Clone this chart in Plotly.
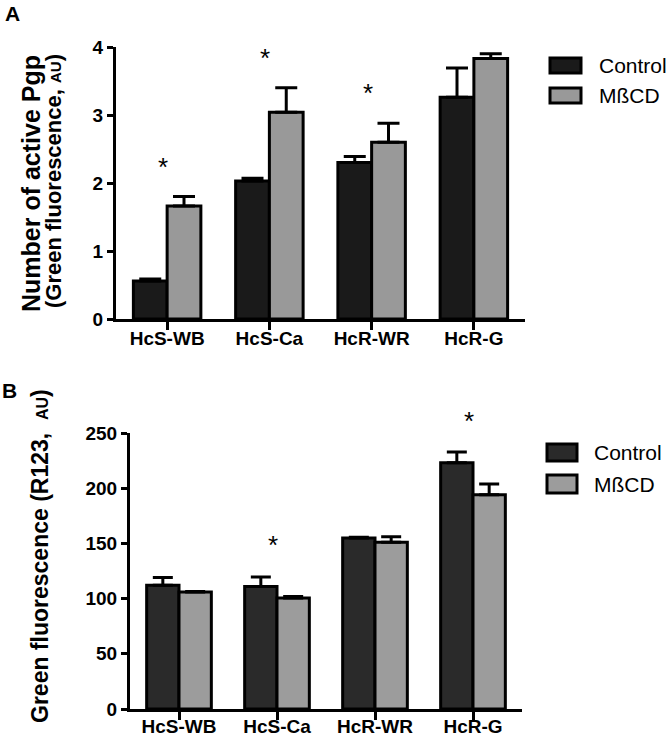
import plotly.graph_objects as go

W, H = 669, 737

categories = ["HcS-WB", "HcS-Ca", "HcR-WR", "HcR-G"]

# Panel A: Number of active Pgp
a_control = [0.56, 2.03, 2.30, 3.26]
a_control_err = [0.03, 0.04, 0.09, 0.43]
a_mbcd = [1.66, 3.04, 2.60, 3.83]
a_mbcd_err = [0.14, 0.36, 0.28, 0.07]
a_star_cats = ["HcS-WB", "HcS-Ca", "HcR-WR"]
a_star_y = [2.28, 3.88, 3.37]
a_ticks = [0, 1, 2, 3, 4]
a_range = [0, 4]

# Panel B: Green fluorescence (R123)
b_control = [112, 111, 155, 223]
b_control_err = [7, 8.5, 0.5, 9.7]
b_mbcd = [106, 100.5, 151, 194]
b_mbcd_err = [0.5, 1.5, 5, 9.8]
b_star_cats = ["HcS-Ca", "HcR-G"]
b_star_y = [151, 264]
b_ticks = [0, 50, 100, 150, 200, 250]
b_range = [0, 250]

series_names = ["Control", "MßCD"]

FONT = "Liberation Sans, Arial, sans-serif"
A_COLORS = ["#1a1a1a", "#999999"]
B_COLORS = ["#2a2a2a", "#9c9c9c"]


def px_x(x):
    return x / W


def px_y(y):
    return 1 - y / H


fig = go.Figure()


def add_bars(vals, errs, name, color, xa, ya, halfw):
    fig.add_trace(go.Bar(
        x=categories, y=vals, name=name, xaxis=xa, yaxis=ya,
        marker=dict(color=color, line=dict(color="black", width=3)),
        error_y=dict(type="data", array=errs, arrayminus=[0] * len(errs),
                     symmetric=False, color="black", thickness=3, width=halfw),
        showlegend=False,
    ))


add_bars(a_control, a_control_err, series_names[0], A_COLORS[0], "x", "y", 11)
add_bars(a_mbcd, a_mbcd_err, series_names[1], A_COLORS[1], "x", "y", 11)
add_bars(b_control, b_control_err, series_names[0], B_COLORS[0], "x2", "y2", 10)
add_bars(b_mbcd, b_mbcd_err, series_names[1], B_COLORS[1], "x2", "y2", 10)

axis_common = dict(showline=True, linecolor="black", linewidth=3, ticks="outside",
                   tickcolor="black", tickwidth=3, showgrid=False, zeroline=False,
                   automargin=False,
                   tickfont=dict(family=FONT, size=19, color="black", weight="bold"),
                   fixedrange=True)

fig.update_layout(
    width=W, height=H,
    margin=dict(l=0, r=0, t=0, b=0, autoexpand=False),
    paper_bgcolor="white", plot_bgcolor="white",
    barmode="group", bargap=0.34, bargroupgap=0,
    font=dict(family=FONT, color="black"),
    xaxis=dict(domain=[px_x(116), px_x(525)], anchor="y", ticklen=8,
               range=[-0.5, 3.5], ticklabelstandoff=-8, **axis_common),
    yaxis=dict(domain=[px_y(319), px_y(47)], anchor="x", range=a_range,
               tickvals=a_ticks, ticklen=6, **axis_common),
    xaxis2=dict(domain=[px_x(130), px_x(522)], anchor="y2", ticklen=8,
                range=[-0.5, 3.5], ticklabelstandoff=-10, **axis_common),
    yaxis2=dict(domain=[px_y(709), px_y(433)], anchor="x2", range=b_range,
                tickvals=b_ticks, ticklen=6, **axis_common),
)

ann = []
# asterisks (positioned on the value axis through its domain fraction so that
# a star above the axis range is still shown)
for cats, ys, xref, yref, rng in [
    (a_star_cats, a_star_y, "x", "y domain", a_range),
    (b_star_cats, b_star_y, "x2", "y2 domain", b_range),
]:
    for c, y in zip(cats, ys):
        ann.append(dict(x=c, y=(y - rng[0]) / (rng[1] - rng[0]), xref=xref, yref=yref,
                        text="*", showarrow=False,
                        font=dict(family=FONT, size=26, color="black"),
                        xanchor="center", yanchor="middle", yshift=-3, xshift=-4))

# panel labels
ann.append(dict(x=px_x(3), y=px_y(0), xref="paper", yref="paper", text="<b>A</b>",
                showarrow=False, xanchor="left", yanchor="top",
                font=dict(family=FONT, size=21, color="black")))
ann.append(dict(x=px_x(0), y=px_y(377), xref="paper", yref="paper", text="<b>B</b>",
                showarrow=False, xanchor="left", yanchor="top",
                font=dict(family=FONT, size=21, color="black")))

# y titles
ann.append(dict(x=px_x(31), y=px_y(184), xref="paper", yref="paper",
                text="<b>Number of active Pgp</b>", textangle=-90, showarrow=False,
                xanchor="center", yanchor="middle",
                font=dict(family=FONT, size=25, color="black")))
ann.append(dict(x=px_x(53), y=px_y(181), xref="paper", yref="paper",
                text="<b>(Green fluorescence, <span style='font-size:15px'>AU</span>)</b>",
                textangle=-90, showarrow=False, xanchor="center", yanchor="middle",
                font=dict(family=FONT, size=22, color="black")))
ann.append(dict(x=px_x(40), y=px_y(556), xref="paper", yref="paper",
                text="<b>Green fluorescence (R123,  <span style='font-size:16px'>AU</span>)</b>",
                textangle=-90, showarrow=False, xanchor="center", yanchor="middle",
                font=dict(family=FONT, size=23, color="black")))

# legends (swatches + labels)
shapes = []
legend_specs = [
    (550, 581, [(58, 73), (88, 103)], 597, A_COLORS),
    (547, 577, [(444, 461), (475, 493)], 592, B_COLORS),
]
for x0, x1, rows, tx, cols in legend_specs:
    for (y0, y1), name, col in zip(rows, series_names, cols):
        shapes.append(dict(type="rect", xref="paper", yref="paper",
                           x0=px_x(x0), x1=px_x(x1), y0=px_y(y1), y1=px_y(y0),
                           fillcolor=col, line=dict(color="black", width=3)))
        ann.append(dict(x=px_x(tx), y=px_y((y0 + y1) / 2), xref="paper", yref="paper",
                        text=name, showarrow=False, xanchor="left", yanchor="middle",
                        font=dict(family=FONT, size=21, color="black")))

fig.update_layout(annotations=ann, shapes=shapes)

fig.write_html("out.html", config={"displayModeBar": False},
               post_script="document.body.style.margin='0';")
